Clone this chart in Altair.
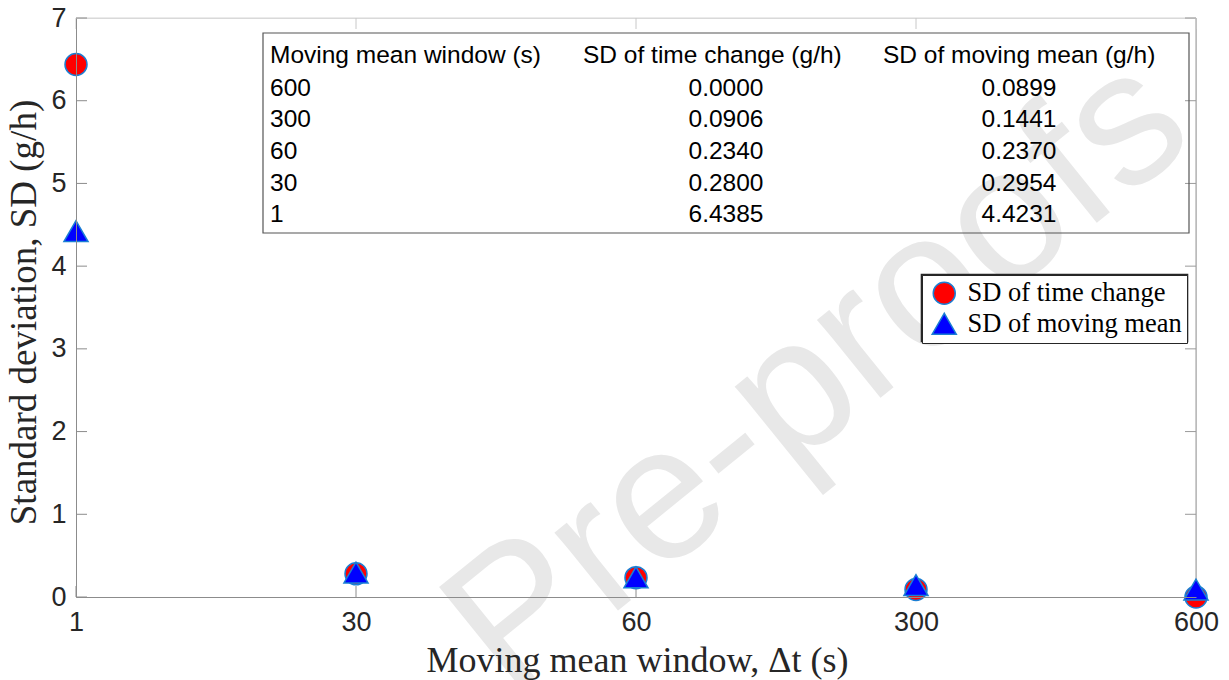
import altair as alt
import pandas as pd

# ---- data ----
windows = ["1", "30", "60", "300", "600"]
sd_time_change = [6.4385, 0.2800, 0.2340, 0.0906, 0.0000]
sd_moving_mean = [4.4231, 0.2954, 0.2370, 0.1441, 0.0899]
series_names = ["SD of time change", "SD of moving mean"]
y_ticks = [0, 1, 2, 3, 4, 5, 6, 7]
table_headers = ["Moving mean window (s)", "SD of time change (g/h)", "SD of moving mean (g/h)"]
watermark = "Pre-proofs"

W, H = 1120, 579
SANS = "Liberation Sans"
SERIF = "Liberation Serif"
EDGE = "#1a7fd4"

points = pd.DataFrame({
    "window": windows * 2,
    "sd": sd_time_change + sd_moving_mean,
    "series": [series_names[0]] * 5 + [series_names[1]] * 5,
})

xscale = alt.Scale(type="point", domain=windows, padding=0)
yscale = alt.Scale(domain=[0, 7], nice=False, zero=False)

xaxis = alt.Axis(
    title="Moving mean window, Δt (s)", ticks=False, grid=False, zindex=1,
    domainColor="#8c8c8c", domainWidth=1,
    labelFont=SANS, labelFontSize=27, labelColor="#262626", labelPadding=12,
    labelAngle=0, labelOverlap=False,
    titleFont=SERIF, titleFontSize=36, titleFontWeight="normal", titleColor="#262626",
    titleX=561, titleY=63, titleBaseline="middle", titleAlign="center",
)
yaxis = alt.Axis(
    title="Standard deviation, SD (g/h)", values=y_ticks, ticks=False, grid=False, zindex=1,
    domainColor="#8c8c8c", domainWidth=1,
    labelFont=SANS, labelFontSize=27, labelColor="#262626", labelPadding=10,
    labelOverlap=False, format="d",
    titleFont=SERIF, titleFontSize=37, titleFontWeight="normal", titleColor="#262626",
    titleX=-52, titleY=294, titleAngle=270, titleBaseline="middle", titleAlign="center",
)

# watermark (behind)
wm = alt.Chart(pd.DataFrame({"t": [watermark]})).mark_text(
    font=SANS, fontSize=190, color="#e8e8e8", angle=321, align="center", baseline="middle"
).encode(text="t:N", x=alt.value(742), y=alt.value(357))

# frame: top and right lines
frame_top = alt.Chart(pd.DataFrame({"a": [0]})).mark_rule(color="#d6d6d6", strokeWidth=1).encode(
    x=alt.value(0), x2=alt.value(W), y=alt.value(0))
frame_right = alt.Chart(pd.DataFrame({"a": [0]})).mark_rule(color="#9a9a9a", strokeWidth=1).encode(
    x=alt.value(W), y=alt.value(0), y2=alt.value(H))

ydf = pd.DataFrame({"v": y_ticks})
xdf = pd.DataFrame({"window": windows})
ticks_left = alt.Chart(ydf).mark_rule(color="#8c8c8c").encode(
    y=alt.Y("v:Q", scale=yscale, axis=yaxis), x=alt.value(0), x2=alt.value(11))
ticks_right = alt.Chart(ydf).mark_rule(color="#9a9a9a").encode(
    y=alt.Y("v:Q", scale=yscale), x=alt.value(W - 11), x2=alt.value(W))
ticks_bottom = alt.Chart(xdf).mark_rule(color="#8c8c8c").encode(
    x=alt.X("window:N", scale=xscale, axis=xaxis, sort=windows), y=alt.value(H - 11), y2=alt.value(H))
ticks_top = alt.Chart(xdf).mark_rule(color="#c8c8c8").encode(
    x=alt.X("window:N", scale=xscale, sort=windows), y=alt.value(0), y2=alt.value(11))

# table box
tbox = alt.Chart(pd.DataFrame({"a": [0]})).mark_rect(
    fill="white", fillOpacity=0, stroke="#555555", strokeWidth=1.2
).encode(x=alt.value(187), x2=alt.value(1113), y=alt.value(15), y2=alt.value(215))

rev_w = windows[::-1]
rev_t = ["%.4f" % v for v in sd_time_change[::-1]]
rev_m = ["%.4f" % v for v in sd_moving_mean[::-1]]
LH = 31.7
HEAD_Y = 26.0
ROW_Y = HEAD_Y + LH + 0.8


def text_block(txt, x, y, align):
    return alt.Chart(pd.DataFrame({"t": [txt]})).mark_text(
        font=SANS, fontSize=24.5, color="black", align=align, baseline="top",
        lineBreak="\n", lineHeight=LH
    ).encode(text="t:N", x=alt.value(x), y=alt.value(y))


table_layers = [
    text_block(table_headers[0], 194, HEAD_Y, "left"),
    text_block("\n".join(rev_w), 194, ROW_Y, "left"),
    text_block(table_headers[1], 507, HEAD_Y, "left"),
    text_block("\n".join(rev_t), 650, ROW_Y, "center"),
    text_block(table_headers[2], 807, HEAD_Y, "left"),
    text_block("\n".join(rev_m), 943, ROW_Y, "center"),
]

# thicker legend frame underneath the legend
lframe = alt.Chart(pd.DataFrame({"a": [0]})).mark_rect(
    fill="white", stroke="#262626", strokeWidth=2.6
).encode(x=alt.value(846), x2=alt.value(1111), y=alt.value(257), y2=alt.value(323))

pts = alt.Chart(points).mark_point(
    filled=True, opacity=1, stroke=EDGE, strokeWidth=1.5
).encode(
    x=alt.X("window:N", scale=xscale, sort=windows),
    y=alt.Y("sd:Q", scale=yscale),
    color=alt.Color("series:N", scale=alt.Scale(domain=series_names, range=["#ff0000", "#0000ff"]),
                    legend=alt.Legend(
                        orient="none", legendX=846, legendY=257, title=None,
                        labelFont=SERIF, labelFontSize=26.5, labelColor="black", labelLimit=500,
                        strokeColor="#262626", fillColor="white",
                        padding=5, symbolSize=480, symbolStrokeColor=EDGE,
                        symbolStrokeWidth=1.5, symbolOpacity=1, rowPadding=1.5,
                        labelOffset=10, symbolOffset=4)),
    shape=alt.Shape("series:N", scale=alt.Scale(domain=series_names, range=["circle", "triangle-up"])),
    size=alt.Size("series:N", scale=alt.Scale(domain=series_names, range=[484, 580]), legend=None),
    order=alt.Order("series:N", sort="descending"),
)

chart = alt.layer(
    wm, frame_top, frame_right, ticks_left, ticks_right, ticks_bottom, ticks_top,
    tbox, *table_layers, lframe, pts
).properties(
    width=W, height=H,
    padding={"left": 76, "top": 18, "right": 33, "bottom": 83},
    autosize=alt.AutoSizeParams(type="none"),
).configure_view(stroke=None).configure(background="white")

chart.save("out.html", embed_options={"renderer": "svg", "actions": False})
